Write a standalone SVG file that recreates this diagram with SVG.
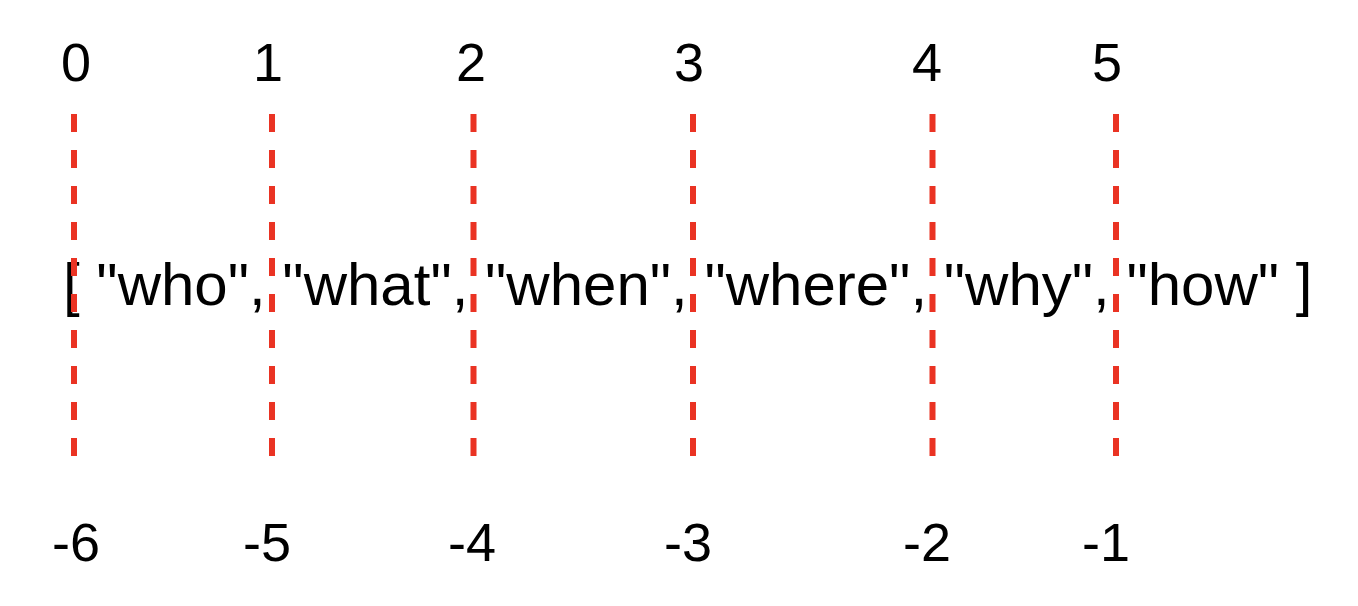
<svg xmlns="http://www.w3.org/2000/svg" width="1358" height="606" viewBox="0 0 1358 606">
  <style>
    .num { font-family: "Liberation Sans", Arial, sans-serif; font-size: 54px; fill: #000; text-anchor: middle; }
    .arr { font-family: "Liberation Sans", Arial, sans-serif; font-size: 60px; fill: #000; }
    .div { stroke: #EA3323; stroke-width: 6; stroke-dasharray: 18 18; fill: none; }
  </style>
  <rect width="1358" height="606" fill="#fff"/>
  <g id="array">
    <text class="arr" x="63" y="305" xml:space="preserve">[ "who", "what", "when", "where", "why", "how" ]</text>
  </g>
  <g id="positive-indices">
    <text class="num" x="76" y="81">0</text>
    <text class="num" x="268" y="81">1</text>
    <text class="num" x="471" y="81">2</text>
    <text class="num" x="689" y="81">3</text>
    <text class="num" x="927" y="81">4</text>
    <text class="num" x="1107" y="81">5</text>
  </g>
  <g id="negative-indices">
    <text class="num" x="76" y="561">-6</text>
    <text class="num" x="267" y="561">-5</text>
    <text class="num" x="472" y="561">-4</text>
    <text class="num" x="688" y="561">-3</text>
    <text class="num" x="927" y="561">-2</text>
    <text class="num" x="1106" y="561">-1</text>
  </g>
  <g id="connectors">
    <line class="div" x1="74" y1="114" x2="74" y2="457"/>
    <line class="div" x1="272" y1="114" x2="272" y2="457"/>
    <line class="div" x1="473.5" y1="114" x2="473.5" y2="457"/>
    <line class="div" x1="693" y1="114" x2="693" y2="457"/>
    <line class="div" x1="932.5" y1="114" x2="932.5" y2="457"/>
    <line class="div" x1="1116" y1="114" x2="1116" y2="457"/>
  </g>
</svg>
